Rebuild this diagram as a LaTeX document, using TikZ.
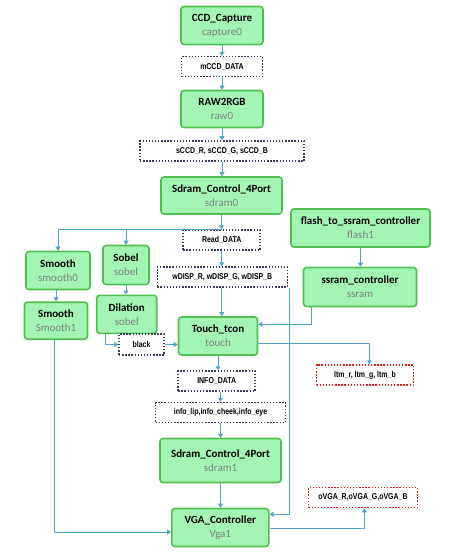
\documentclass[tikz,border=0pt]{standalone}
\usepackage{fontspec}
\setmainfont{Carlito}
\newfontfamily\narrowfont[FakeStretch=0.82]{Liberation Sans}
\usetikzlibrary{arrows.meta}
\definecolor{nodefill}{RGB}{163,245,180}
\definecolor{nodeborder}{RGB}{80,190,80}
\definecolor{linecol}{RGB}{80,165,195}
\definecolor{dotcol}{RGB}{60,60,90}
\definecolor{redcol}{RGB}{225,30,30}
\definecolor{subcol}{RGB}{128,128,128}
\newcommand{\modlabel}[2]{\textbf{#1}\\[2pt]{\color{subcol}#2}}
\tikzset{
  module/.style={draw=nodeborder, fill=nodefill, line width=1.6pt, rounded corners=3pt,
    align=center, inner sep=0pt, font=\fontsize{11}{12}\selectfont},
  sig/.style={draw=dotcol, fill=white, line width=1.5pt, dash pattern=on 1.4pt off 1.7pt,
    align=center, inner sep=0pt, minimum height=20pt, font=\narrowfont\bfseries\fontsize{8.5}{9}\selectfont},
  outsig/.style={sig, draw=redcol},
  arr/.style={draw=linecol, line width=0.9pt, -{Triangle[width=5pt,length=4pt]}},
  ln/.style={draw=linecol, line width=0.9pt}
}
\begin{document}
\begin{tikzpicture}[x=1pt,y=-1pt]
\useasboundingbox (0,0) rectangle (457,556);
% modules
\node[module, minimum width=82pt, minimum height=38pt] (cap) at (222,25.5) {\modlabel{CCD\_Capture}{capture0}};
\node[module, minimum width=82pt, minimum height=37pt] (raw) at (222,109) {\modlabel{RAW2RGB}{raw0}};
\node[module, minimum width=121pt, minimum height=37pt] (sd0) at (221.5,195.5) {\modlabel{Sdram\_Control\_4Port}{sdram0}};
\node[module, minimum width=139pt, minimum height=38pt] (flash) at (360.5,228) {\modlabel{flash\_to\_ssram\_controller}{flash1}};
\node[module, minimum width=113pt, minimum height=39pt] (ssram) at (360,287) {\modlabel{ssram\_controller}{ssram}};
\node[module, minimum width=79pt, minimum height=38pt] (touch) at (218,336) {\modlabel{Touch\_tcon}{touch}};
\node[module, minimum width=64pt, minimum height=38pt] (sm0) at (58,270.5) {\modlabel{Smooth}{smooth0}};
\node[module, minimum width=46pt, minimum height=39pt] (sob) at (126,265) {\modlabel{Sobel}{sobel}};
\node[module, minimum width=63pt, minimum height=37pt] (sm1) at (56,320.7) {\modlabel{Smooth}{Smooth1}};
\node[module, minimum width=60pt, minimum height=38pt] (dil) at (126.7,314.3) {\modlabel{Dilation}{sobel}};
\node[module, minimum width=121pt, minimum height=44pt] (sd1) at (220.5,460.5) {\modlabel{Sdram\_Control\_4Port}{sdram1}};
\node[module, minimum width=97pt, minimum height=38pt] (vga) at (220.3,527.5) {\modlabel{VGA\_Controller}{Vga1}};
% signals
\node[sig, minimum width=81pt] (mccd) at (222,66.7) {mCCD\_DATA};
\node[sig, minimum width=164pt] (sccd) at (222,151) {sCCD\_R, sCCD\_G, sCCD\_B};
\node[sig, minimum width=77pt] (rd) at (221.7,240) {Read\_DATA};
\node[sig, minimum width=130pt] (wd) at (222.3,277) {wDISP\_R, wDISP\_G, wDISP\_B};
\node[outsig, minimum width=97pt] (itm) at (365,375) {ltm\_r, ltm\_g, ltm\_b};
\node[sig, minimum width=45pt, minimum height=21pt] (blk) at (141.5,344.5) {black};
\node[sig, minimum width=77pt] (info) at (216.7,381) {INFO\_DATA};
\node[sig, minimum width=130pt] (lip) at (220.5,412.5) {info\_lip,info\_cheek,info\_eye};
\node[outsig, minimum width=109pt] (ovga) at (363,497.5) {oVGA\_R,oVGA\_G,oVGA\_B};
% connectors
\draw[arr] (cap.south) -- (cap.south |- mccd.north);
\draw[arr] (mccd.south) -- (mccd.south |- raw.north);
\draw[arr] (raw.south) -- (raw.south |- sccd.north);
\draw[arr] (sccd.south) -- (sccd.south |- sd0.north);
\draw[arr] (sd0.south) -- (sd0.south |- rd.north);
\draw[arr] (rd.north) -| (sm0.north);
\draw[arr] (sob.north |- rd.north) -- (sob.north);
\draw[arr] (rd.south) -- (rd.south |- wd.north);
\draw[arr] (wd.south -| rd.south) -- (rd.south |- touch.north);
\draw[arr] (sm1.north |- sm0.south) -- (sm1.north);
\draw[arr] (sob.south) -- (sob.south |- dil.north);
\draw[arr] ([xshift=-21.7pt]dil.south) |- (blk.west);
\draw[arr] (blk.east) -- (blk.east -| touch.west);
\draw[arr] (flash.south) -- (flash.south |- ssram.north);
\draw[arr] ([xshift=-48.3pt]ssram.south) |- ([yshift=11.7pt]touch.east);
\draw[arr] ([yshift=-7.3pt]touch.east) -| ([xshift=4.3pt]itm.north);
\draw[arr] ([xshift=1pt]wd.south east) |- ([yshift=13.2pt]vga.east);
\draw[arr] (touch.south) -- (touch.south |- info.north);
\draw[arr] (info.south -| lip.north) -- (lip.north);
\draw[arr] (lip.south) -- (lip.south |- sd1.north);
\draw[arr] (sd1.south) -- (sd1.south |- vga.north);
\draw[arr] ([xshift=-1.7pt]sm1.south) |- ([yshift=-4.5pt]vga.west);
\draw[arr] ([yshift=-0.8pt]vga.east) -| ([xshift=1.3pt]ovga.south);
\end{tikzpicture}
\end{document}
